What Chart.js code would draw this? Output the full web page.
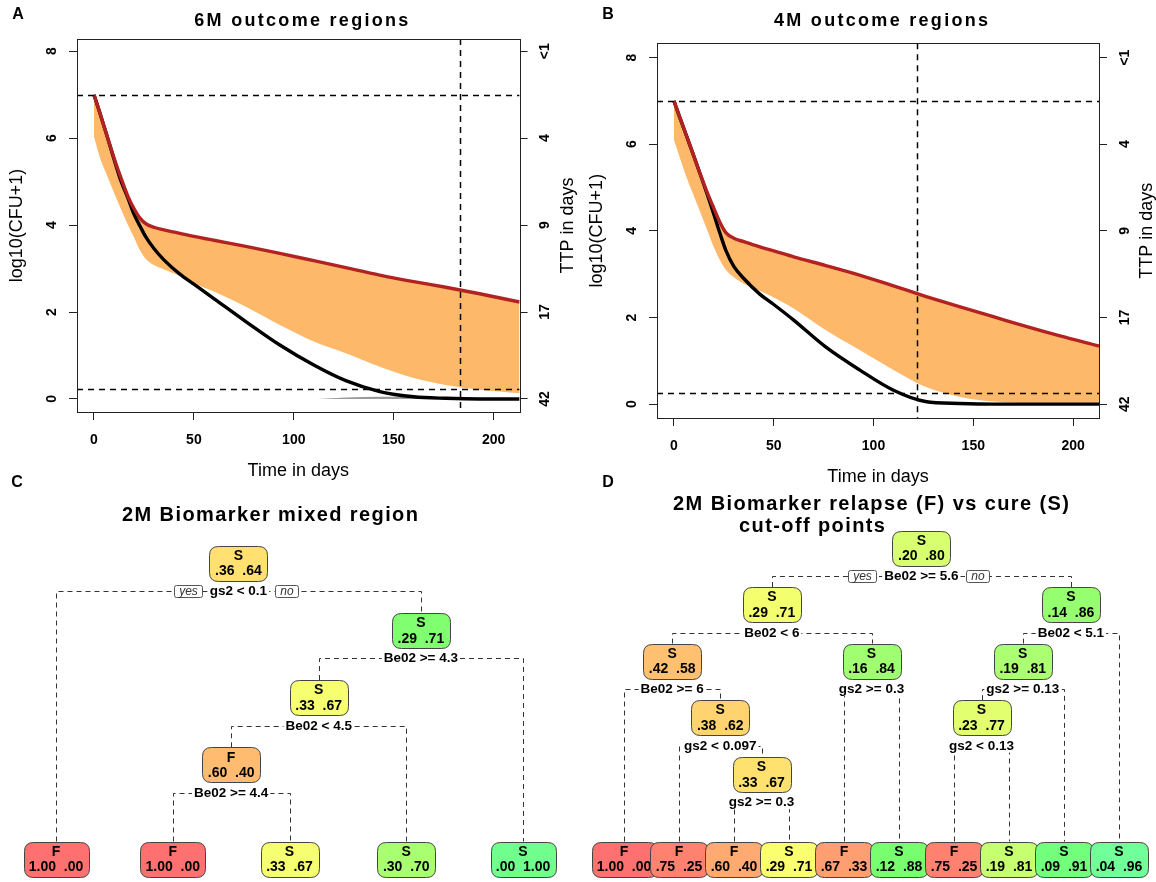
<!DOCTYPE html>
<html>
<head>
<meta charset="utf-8">
<script src="https://cdn.jsdelivr.net/npm/chart.js@4.4.1/dist/chart.umd.min.js"></script>
<style>
html, body { margin: 0; padding: 0; background: #fff; }
#wrap { position: relative; width: 1156px; height: 882px; overflow: hidden; background: #fff; }
canvas { position: absolute; }
</style>
</head>
<body>
<div id="wrap">
  <canvas id="chartA" width="580" height="490" style="left:0;top:0"></canvas>
  <canvas id="chartB" width="576" height="490" style="left:580px;top:0"></canvas>
  <canvas id="chartC" width="580" height="412" style="left:0;top:470px"></canvas>
  <canvas id="chartD" width="576" height="412" style="left:580px;top:470px"></canvas>
</div>
<script>
/* ==========================================
   DATA
========================================== */

// --- outcome region curves, days on treatment ---
const days = [0, 3, 6, 10, 13, 17, 20, 23, 26, 30, 35, 43, 50, 60, 76, 93, 110, 126, 143, 160, 176, 193, 213];

// 6M panel
const upper6M = [7.0, 6.57, 6.13, 5.55, 5.15, 4.66, 4.38, 4.16, 4.03, 3.95, 3.89, 3.81, 3.74, 3.65, 3.51, 3.35, 3.18, 3.02, 2.85, 2.70, 2.57, 2.42, 2.23];
const median6M = [7.0, 6.57, 6.13, 5.52, 5.08, 4.62, 4.25, 3.98, 3.72, 3.46, 3.20, 2.87, 2.64, 2.31, 1.78, 1.24, 0.78, 0.42, 0.17, 0.05, 0.015, 0.0, 0.0];
const lower6M = [6.03, 5.55, 5.20, 4.75, 4.42, 4.00, 3.72, 3.42, 3.22, 3.08, 2.98, 2.83, 2.66, 2.47, 2.12, 1.70, 1.32, 1.05, 0.74, 0.48, 0.32, 0.21, 0.13];
const shadowDays6M = [112, 126, 143, 160, 176, 190];
const shadow6M = [0.0, 0.035, 0.05, 0.045, 0.02, 0.0];
const cuts6M = [7, 0.23];
const cutDay6M = 183;

// 4M panel
const upper4M = [7.0, 6.61, 6.23, 5.72, 5.33, 4.85, 4.52, 4.20, 3.96, 3.83, 3.75, 3.63, 3.54, 3.40, 3.20, 2.98, 2.73, 2.49, 2.25, 2.02, 1.80, 1.58, 1.34];
const median4M = [7.0, 6.61, 6.23, 5.72, 5.33, 4.80, 4.38, 3.95, 3.55, 3.18, 2.90, 2.54, 2.30, 1.94, 1.32, 0.79, 0.32, 0.06, 0.015, 0.0, 0.0, 0.0, 0.0];
const lower4M = [6.10, 5.68, 5.27, 4.80, 4.45, 3.98, 3.62, 3.33, 3.10, 2.93, 2.78, 2.62, 2.46, 2.21, 1.71, 1.25, 0.79, 0.40, 0.17, 0.06, 0.03, 0.03, 0.03];
const cuts4M = [7, 0.25];
const cutDay4M = 122;

// axes
const xTicks = [0, 50, 100, 150, 200];
const yTicks = [0, 2, 4, 6, 8];
const ttpLabels = ['42', '17', '9', '4', '<1'];   // TTP in days at yTicks

// --- tree C : 2M biomarker mixed region (preorder) ---
const cParent = [-1, 0, 0, 2, 3, 4, 4, 3, 2];
const cClass = ['S', 'F', 'S', 'S', 'F', 'F', 'S', 'S', 'S'];
const cProbF = [0.36, 1.00, 0.29, 0.33, 0.60, 1.00, 0.33, 0.30, 0.00];
const cProbS = [0.64, 0.00, 0.71, 0.67, 0.40, 0.00, 0.67, 0.70, 1.00];
const cSplit = ['gs2 < 0.1', '', 'Be02 >= 4.3', 'Be02 < 4.5', 'Be02 >= 4.4', '', '', '', ''];

// --- tree D : relapse vs cure cut-off points (preorder) ---
const dParent = [-1, 0, 1, 2, 2, 4, 4, 6, 6, 1, 9, 9, 0, 12, 13, 14, 14, 13, 12];
const dClass = ['S', 'S', 'S', 'F', 'S', 'F', 'S', 'F', 'S', 'S', 'F', 'S', 'S', 'S', 'S', 'F', 'S', 'S', 'S'];
const dProbF = [0.20, 0.29, 0.42, 1.00, 0.38, 0.75, 0.33, 0.60, 0.29, 0.16, 0.67, 0.12, 0.14, 0.19, 0.23, 0.75, 0.19, 0.09, 0.04];
const dProbS = [0.80, 0.71, 0.58, 0.00, 0.62, 0.25, 0.67, 0.40, 0.71, 0.84, 0.33, 0.88, 0.86, 0.81, 0.77, 0.25, 0.81, 0.91, 0.96];
const dSplit = ['Be02 >= 5.6', 'Be02 < 6', 'Be02 >= 6', '', 'gs2 < 0.097', '', 'gs2 >= 0.3', '', '',
                'gs2 >= 0.3', '', '', 'Be02 < 5.1', 'gs2 >= 0.13', 'gs2 < 0.13', '', '', '', ''];

/* ==========================================
   STYLES
========================================== */
const FONT = "'Liberation Sans', Arial, Helvetica, sans-serif";
const ORANGE = 'rgb(253,184,106)';
const RED = '#B22222';
const CLEAR = 'rgba(0,0,0,0)';

const cColors = ['#FFE070', '#FF7070', '#80FF70', '#F6FF70', '#FFBC70', '#FF7070', '#F6FF70', '#A8FF70', '#70FF8C'];
const dColors = ['#D8FF70', '#F4FF70', '#FFC070', '#FF7070', '#FFD470', '#FF8270', '#FFE170', '#FFAA70', '#FAFF70',
                 '#A0FF70', '#FF9E70', '#78FF70', '#96FF70', '#ACFF70', '#E2FF70', '#FF8270', '#C6FF70', '#72FF7C', '#70FF98'];

// vertical text, reading bottom to top
function vText(ctx, txt, x, y) {
    ctx.save();
    ctx.translate(x, y);
    ctx.rotate(-Math.PI / 2);
    ctx.textAlign = 'center';
    ctx.textBaseline = 'middle';
    ctx.fillText(txt, 0, 0);
    ctx.restore();
}

function spacedText(ctx, txt, x, y, spacing) {
    ctx.save();
    ctx.letterSpacing = spacing + 'px';
    ctx.textAlign = 'center';
    ctx.textBaseline = 'middle';
    ctx.fillText(txt, x + spacing / 2, y);
    ctx.restore();
}

/* ==========================================
   R STYLE FRAME FOR PANELS A / B
========================================== */
const rFrame = {
    id: 'rframe',
    afterDatasetsDraw(chart, args, o) {
        const { ctx, chartArea: a, scales: { x, y } } = chart;
        ctx.save();
        ctx.beginPath();
        ctx.rect(a.left, a.top, a.width, a.height);
        ctx.clip();
        ctx.strokeStyle = '#000';
        ctx.lineWidth = 1.5;
        ctx.setLineDash([6, 5]);
        o.cuts.forEach(v => {
            const py = Math.round(y.getPixelForValue(v)) + 0.5;
            ctx.beginPath(); ctx.moveTo(a.left, py); ctx.lineTo(a.right, py); ctx.stroke();
        });
        const px = Math.round(x.getPixelForValue(o.cutDay)) + 0.5;
        ctx.beginPath(); ctx.moveTo(px, a.top); ctx.lineTo(px, a.bottom); ctx.stroke();
        ctx.restore();
    },
    afterDraw(chart, args, o) {
        const { ctx, chartArea: a, scales } = chart;
        ctx.save();
        ctx.strokeStyle = '#222';
        ctx.lineWidth = 1;
        ctx.strokeRect(Math.round(a.left) + 0.5, Math.round(a.top) + 0.5, Math.round(a.width), Math.round(a.height));

        ctx.fillStyle = '#000';
        ctx.font = `bold 14px ${FONT}`;
        scales.y.ticks.forEach(t => vText(ctx, String(t.value), a.left - 25, scales.y.getPixelForValue(t.value)));
        scales.y2.ticks.forEach(t => vText(ctx, ttpLabels[yTicks.indexOf(t.value)], a.right + 26, scales.y2.getPixelForValue(t.value)));

        const midY = (a.top + a.bottom) / 2, midX = (a.left + a.right) / 2;
        ctx.font = `18px ${FONT}`;
        vText(ctx, 'log10(CFU+1)', a.left - 60, midY);
        vText(ctx, 'TTP in days', a.right + 48, midY);
        ctx.textAlign = 'center';
        ctx.textBaseline = 'middle';
        ctx.fillText('Time in days', midX, a.bottom + 59);

        ctx.font = `bold 18px ${FONT}`;
        spacedText(ctx, o.title, midX + 3, 21, 2.3);
        ctx.font = `bold 16px ${FONT}`;
        ctx.fillText(o.letter, o.letterX, 15);
        ctx.restore();
    }
};

function outcomeChart(id, opt) {
    const pts = (xs, ys) => xs.map((x, i) => ({ x, y: ys[i] }));
    const base = { pointRadius: 0, cubicInterpolationMode: 'monotone' };
    const tickGrid = { drawOnChartArea: false, drawTicks: true, tickLength: 8, tickColor: '#222', color: '#222' };
    const fixTicks = vals => scale => { scale.ticks = vals.map(v => ({ value: v })); };

    // higher order is drawn first (further back)
    const datasets = [
        { ...base, data: pts(days, opt.lower), borderColor: CLEAR, borderWidth: 0, fill: false, order: 5 },
        { ...base, data: pts(days, opt.upper), borderColor: CLEAR, borderWidth: 0, fill: '-1', backgroundColor: ORANGE, order: 4 },
        { ...base, data: pts(days, opt.median), borderColor: '#000', borderWidth: 3.4, fill: false, order: 2 },
        { ...base, data: pts(days, opt.upper), borderColor: RED, borderWidth: 3.4, fill: false, order: 1 }
    ];
    if (opt.shadowDays) {
        datasets.push({ ...base, data: pts(opt.shadowDays, opt.shadow), borderColor: CLEAR, borderWidth: 0,
                        fill: 'origin', backgroundColor: 'rgba(120,120,120,0.75)', order: 3 });
    }

    return new Chart(document.getElementById(id), {
        type: 'line',
        data: { datasets },
        options: {
            responsive: false,
            animation: false,
            events: [],
            layout: { padding: { top: opt.top, left: 0, right: 0, bottom: 0 } },
            plugins: {
                legend: { display: false },
                tooltip: { enabled: false },
                rframe: { cuts: opt.cuts, cutDay: opt.cutDay, title: opt.title, letter: opt.letter, letterX: opt.letterX }
            },
            scales: {
                x: {
                    type: 'linear', min: -8.5, max: 213,
                    afterBuildTicks: fixTicks(xTicks),
                    afterFit: s => { s.height = opt.xHeight; },
                    grid: tickGrid, border: { display: false },
                    ticks: { color: '#000', padding: 12, font: { family: FONT, size: 14, weight: 'bold' }, maxRotation: 0 }
                },
                y: {
                    type: 'linear', position: 'left', min: opt.yMin, max: opt.yMax,
                    afterBuildTicks: fixTicks(yTicks),
                    afterFit: s => { s.width = 77; },
                    grid: tickGrid, border: { display: false },
                    ticks: { display: false }
                },
                y2: {
                    type: 'linear', position: 'right', min: opt.yMin, max: opt.yMax,
                    afterBuildTicks: fixTicks(yTicks),
                    afterFit: s => { s.width = opt.rightWidth; },
                    grid: tickGrid, border: { display: false },
                    ticks: { display: false }
                }
            }
        },
        plugins: [rFrame]
    });
}

outcomeChart('chartA', {
    upper: upper6M, median: median6M, lower: lower6M, shadowDays: shadowDays6M, shadow: shadow6M,
    cuts: cuts6M, cutDay: cutDay6M, title: '6M outcome regions', letter: 'A', letterX: 18,
    top: 39, xHeight: 78, rightWidth: 60.4, yMin: -0.3, yMax: 8.28
});
outcomeChart('chartB', {
    upper: upper4M, median: median4M, lower: lower4M,
    cuts: cuts4M, cutDay: cutDay4M, title: '4M outcome regions', letter: 'B', letterX: 28,
    top: 43.3, xHeight: 72, rightWidth: 57, yMin: -0.32, yMax: 8.33
});

/* ==========================================
   DECISION TREES (C / D)
========================================== */

// leaves spread on an index scale, parents centred over children
function treeLayout(parent) {
    const kids = parent.map(() => []);
    parent.forEach((p, i) => { if (p >= 0) kids[p].push(i); });
    const depth = [], pos = [];
    let leaf = 0;
    (function visit(i, d) {
        depth[i] = d;
        if (!kids[i].length) { pos[i] = leaf++; return; }
        kids[i].forEach(k => visit(k, d + 1));
        pos[i] = (pos[kids[i][0]] + pos[kids[i][1]]) / 2;
    })(0, 0);
    return { kids, depth, pos, leaves: leaf };
}

function fmtProb(p) {
    return p >= 1 ? '1.00' : p.toFixed(2).replace(/^0/, '');
}

function boxPath(ctx, x, y, w, h, r) {
    ctx.beginPath();
    ctx.moveTo(x + r, y);
    ctx.lineTo(x + w - r, y);
    ctx.quadraticCurveTo(x + w, y, x + w, y + r);
    ctx.lineTo(x + w, y + h - r);
    ctx.quadraticCurveTo(x + w, y + h, x + w - r, y + h);
    ctx.lineTo(x + r, y + h);
    ctx.quadraticCurveTo(x, y + h, x, y + h - r);
    ctx.lineTo(x, y + r);
    ctx.quadraticCurveTo(x, y, x + r, y);
    ctx.closePath();
}

const rTree = {
    id: 'rtree',
    afterDatasetsDraw(chart, args, o) {
        const ctx = chart.ctx;
        const els = chart.getDatasetMeta(0).data;
        const H = 35, SPLIT = 28;
        ctx.save();

        // titles + panel letter
        ctx.fillStyle = '#000';
        ctx.font = `bold 20px ${FONT}`;
        o.titles.forEach(t => spacedText(ctx, t.text, t.x, t.y, 1.4));
        ctx.font = `bold 16px ${FONT}`;
        ctx.textAlign = 'center';
        ctx.textBaseline = 'middle';
        ctx.fillText(o.letter, o.letterX, 13);

        // dashed branches
        ctx.strokeStyle = '#333';
        ctx.lineWidth = 1;
        ctx.setLineDash([5, 4]);
        o.kids.forEach((k, i) => {
            if (!k.length) return;
            const sy = Math.round(els[i].y + SPLIT) + 0.5;
            const l = els[k[0]], r = els[k[1]];
            const lx = Math.round(l.x) + 0.5, rx = Math.round(r.x) + 0.5;
            ctx.beginPath();
            ctx.moveTo(lx, l.y - H / 2);
            ctx.lineTo(lx, sy);
            ctx.lineTo(rx, sy);
            ctx.lineTo(rx, r.y - H / 2);
            ctx.stroke();
        });
        ctx.setLineDash([]);

        // split labels
        const splitFont = `bold 13.5px ${FONT}`;
        ctx.font = splitFont;
        ctx.textAlign = 'center';
        ctx.textBaseline = 'middle';
        o.kids.forEach((k, i) => {
            if (!k.length) return;
            const sy = els[i].y + SPLIT;
            const w = ctx.measureText(o.split[i]).width;
            ctx.fillStyle = '#fff';
            ctx.fillRect(els[i].x - w / 2 - 2, sy - 7, w + 4, 14);
            ctx.fillStyle = '#000';
            ctx.fillText(o.split[i], els[i].x, sy + 0.5);

            if (i === 0) {
                // yes / no tags on the root split
                ctx.font = `italic 12px ${FONT}`;
                [['yes', -1, 28], ['no', 1, 23]].forEach(([tag, side, bw]) => {
                    const bx = Math.round(side < 0 ? els[0].x - w / 2 - 8 - bw : els[0].x + w / 2 + 8);
                    boxPath(ctx, bx + 0.5, Math.round(sy - 6) + 0.5, bw, 12, 2);
                    ctx.fillStyle = '#fff';
                    ctx.fill();
                    ctx.strokeStyle = '#555';
                    ctx.stroke();
                    ctx.fillStyle = '#333';
                    ctx.fillText(tag, bx + bw / 2 + 0.5, sy + 0.5);
                });
                ctx.font = splitFont;
            }
        });

        // node boxes
        els.forEach((e, i) => {
            const probs = fmtProb(o.pF[i]) + '  ' + fmtProb(o.pS[i]);
            ctx.font = `bold 14px ${FONT}`;
            const w = Math.round(ctx.measureText(probs).width + 11);
            const bx = Math.round(e.x - w / 2) + 0.5, by = Math.round(e.y - H / 2) + 0.5;
            boxPath(ctx, bx, by, w, H, 9);
            ctx.fillStyle = o.colors[i];
            ctx.fill();
            ctx.strokeStyle = '#444';
            ctx.lineWidth = 1;
            ctx.stroke();
            ctx.fillStyle = '#000';
            ctx.textAlign = 'center';
            ctx.textBaseline = 'middle';
            ctx.fillText(o.cls[i], e.x, e.y - 7);
            ctx.fillText(probs, e.x, e.y + 8.5);
        });
        ctx.restore();
    }
};

function treeChart(id, t) {
    const lay = treeLayout(t.parent);
    const points = lay.pos.map((x, i) => ({ x, y: lay.kids[i].length ? lay.depth[i] : t.leafLevel }));
    return new Chart(document.getElementById(id), {
        type: 'scatter',
        data: { datasets: [{ data: points, pointRadius: 0 }] },
        options: {
            responsive: false,
            animation: false,
            events: [],
            layout: { padding: t.padding },
            scales: {
                x: { type: 'linear', display: false, min: 0, max: lay.leaves - 1 },
                y: { type: 'linear', display: false, min: 0, max: t.leafLevel, reverse: true }
            },
            plugins: {
                legend: { display: false },
                tooltip: { enabled: false },
                rtree: {
                    kids: lay.kids, split: t.split, cls: t.cls, pF: t.pF, pS: t.pS, colors: t.colors,
                    titles: t.titles, letter: t.letter, letterX: t.letterX
                }
            }
        },
        plugins: [rTree]
    });
}

treeChart('chartC', {
    parent: cParent, cls: cClass, pF: cProbF, pS: cProbS, split: cSplit, colors: cColors,
    leafLevel: 4.4, padding: { left: 56, right: 57, top: 93, bottom: 23 },
    titles: [{ text: '2M Biomarker mixed region', x: 270, y: 45 }],
    letter: 'C', letterX: 17
});
treeChart('chartD', {
    parent: dParent, cls: dClass, pF: dProbF, pS: dProbS, split: dSplit, colors: dColors,
    leafLevel: 5.5, padding: { left: 44, right: 37, top: 78, bottom: 23 },
    titles: [{ text: '2M Biomarker relapse (F) vs cure (S)', x: 291, y: 34 },
             { text: 'cut-off points', x: 232, y: 56 }],
    letter: 'D', letterX: 28
});
</script>
</body>
</html>
